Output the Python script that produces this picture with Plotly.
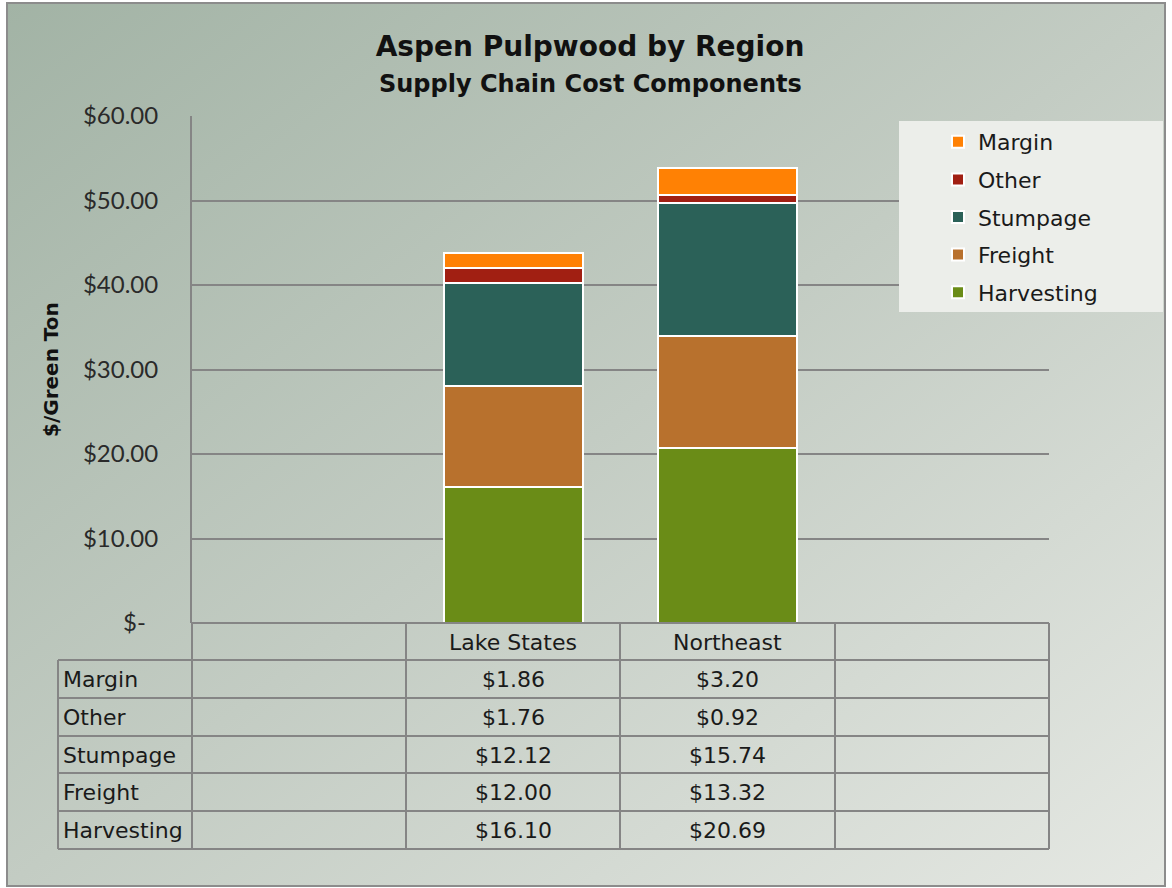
import base64
import plotly.graph_objects as go

# ---------------- data ----------------
regions = ["Lake States", "Northeast"]
all_slots = [" ", "Lake States", "Northeast", "  "]
components = ["Harvesting", "Freight", "Stumpage", "Other", "Margin"]
harvesting = [16.10, 20.69]
freight = [12.00, 13.32]
stumpage = [12.12, 15.74]
other = [1.76, 0.92]
margin = [1.86, 3.20]
values = {"Harvesting": harvesting, "Freight": freight, "Stumpage": stumpage,
          "Other": other, "Margin": margin}
colors = {"Harvesting": "#6a8c17", "Freight": "#b8712d", "Stumpage": "#2b6158",
          "Other": "#a11f12", "Margin": "#ff8104"}
tick_vals = [0, 10, 20, 30, 40, 50, 60]
tick_text = ["$-\u00a0\u00a0", "$10.00", "$20.00", "$30.00", "$40.00", "$50.00", "$60.00"]
title_text = "Aspen Pulpwood by Region"
subtitle_text = "Supply Chain Cost Components"
y_title = "$/Green Ton"

# ---------------- geometry (pixels) ----------------
W, H = 1172, 888
L, R, T, B = 192, 1049, 116, 623
pw, ph = R - L, B - T


def px(x):
    return (x - L) / pw


def py(y):
    return (B - y) / ph


fig = go.Figure()
n = len(components)
for i, c in enumerate(components):
    fig.add_trace(go.Bar(
        x=regions, y=values[c], name=c, legendgroup=c, legendrank=n - i,
        marker=dict(color=colors[c], line=dict(color="white", width=2)),
        width=0.65,
    ))

# gradient background inside the frame
svg = ('<svg xmlns="http://www.w3.org/2000/svg" width="1158" height="883" '
       'preserveAspectRatio="none" viewBox="0 0 1158 883">'
       '<defs><linearGradient id="g" x1="0" y1="0" x2="1" y2="1">'
       '<stop offset="0" stop-color="#a2b3a5"/>'
       '<stop offset="0.5" stop-color="#c3ccc3"/>'
       '<stop offset="1" stop-color="#e5e8e3"/>'
       '</linearGradient></defs>'
       '<rect width="1158" height="883" fill="url(#g)"/></svg>')
src = "data:image/svg+xml;base64," + base64.b64encode(svg.encode()).decode()
fig.add_layout_image(dict(source=src, xref="paper", yref="paper",
                          x=px(7), y=py(3), sizex=1158 / pw, sizey=883 / ph,
                          xanchor="left", yanchor="top", sizing="stretch",
                          layer="below"))

shapes = []
grid = "#858585"
# frame
shapes.append(dict(type="rect", xref="paper", yref="paper",
                   x0=px(7), x1=px(1165), y0=py(3), y1=py(886),
                   line=dict(color="#8c8c8c", width=2), layer="below"))
# table lines
row_y = [623, 660, 698, 736, 773, 811, 849]
col_x = [192, 406, 620, 835, 1049]
for j, yy in enumerate(row_y):
    x0 = 192 if j == 0 else 58
    shapes.append(dict(type="line", xref="paper", yref="paper",
                       x0=px(x0), x1=px(1049), y0=py(yy), y1=py(yy),
                       line=dict(color=grid, width=2)))
for xx in col_x:
    shapes.append(dict(type="line", xref="paper", yref="paper",
                       x0=px(xx), x1=px(xx), y0=py(623), y1=py(849),
                       line=dict(color=grid, width=2)))
shapes.append(dict(type="line", xref="paper", yref="paper",
                   x0=px(58), x1=px(58), y0=py(660), y1=py(849),
                   line=dict(color=grid, width=2)))
# legend background
shapes.append(dict(type="rect", xref="paper", yref="paper",
                   x0=px(899), x1=px(1163), y0=py(121), y1=py(312),
                   fillcolor="#eceeea", line=dict(width=0), layer="above"))

annotations = []
tfont = dict(family="DejaVu Sans", size=22, color="#1a1a1a")
row_centers = [642, 679, 717, 755, 792, 830]
for r in regions:
    annotations.append(dict(x=r, xref="x", y=py(row_centers[0]), yref="paper",
                            text=r, showarrow=False, font=tfont,
                            xanchor="center", yanchor="middle"))
table_order = ["Margin", "Other", "Stumpage", "Freight", "Harvesting"]
for k, c in enumerate(table_order):
    yc = py(row_centers[k + 1])
    annotations.append(dict(x=px(61), xref="paper", y=yc, yref="paper",
                            text=c, showarrow=False, font=tfont,
                            xanchor="left", yanchor="middle"))
    for i, r in enumerate(regions):
        annotations.append(dict(x=r, xref="x", y=yc, yref="paper",
                                text="${:.2f}".format(values[c][i]),
                                showarrow=False, font=tfont,
                                xanchor="center", yanchor="middle"))
# subtitle
annotations.append(dict(x=px(590), xref="paper", y=py(84), yref="paper",
                        text="<b>" + subtitle_text + "</b>", showarrow=False,
                        xanchor="center", yanchor="middle",
                        font=dict(family="DejaVu Sans", size=24, color="#111")))
# y-axis title
annotations.append(dict(x=px(51), xref="paper", y=py(370), yref="paper",
                        text="<b>" + y_title + "</b>", showarrow=False,
                        textangle=-90, xanchor="center", yanchor="middle",
                        font=dict(family="DejaVu Sans", size=20, color="#111")))

fig.update_layout(
    width=W, height=H,
    margin=dict(l=L, r=W - R, t=T, b=H - B),
    paper_bgcolor="white", plot_bgcolor="rgba(0,0,0,0)",
    barmode="stack", bargap=0.35,
    title=dict(text="<b>" + title_text + "</b>",
               x=590 / W, xref="container", xanchor="center",
               y=1 - 46 / H, yref="container", yanchor="middle",
               font=dict(family="DejaVu Sans", size=28, color="#111")),
    xaxis=dict(type="category", categoryorder="array", categoryarray=all_slots,
               range=[-0.5, 3.5], showticklabels=False, showgrid=False,
               zeroline=False, showline=False, fixedrange=True),
    yaxis=dict(range=[0, 60], tickvals=tick_vals, ticktext=tick_text,
               showgrid=True, gridcolor=grid, gridwidth=2,
               zeroline=False, showline=True, linecolor=grid, linewidth=2,
               ticks="", ticklabelstandoff=27,
               tickfont=dict(family="Lato", size=24, color="#2a2a2a")),
    legend=dict(x=px(938), y=py(121), xanchor="left", yanchor="top",
                bgcolor="rgba(0,0,0,0)", traceorder="grouped",
                tracegroupgap=6,
                font=dict(family="DejaVu Sans", size=22, color="#1a1a1a")),
    shapes=shapes, annotations=annotations,
)

fig.write_html("out.html")
